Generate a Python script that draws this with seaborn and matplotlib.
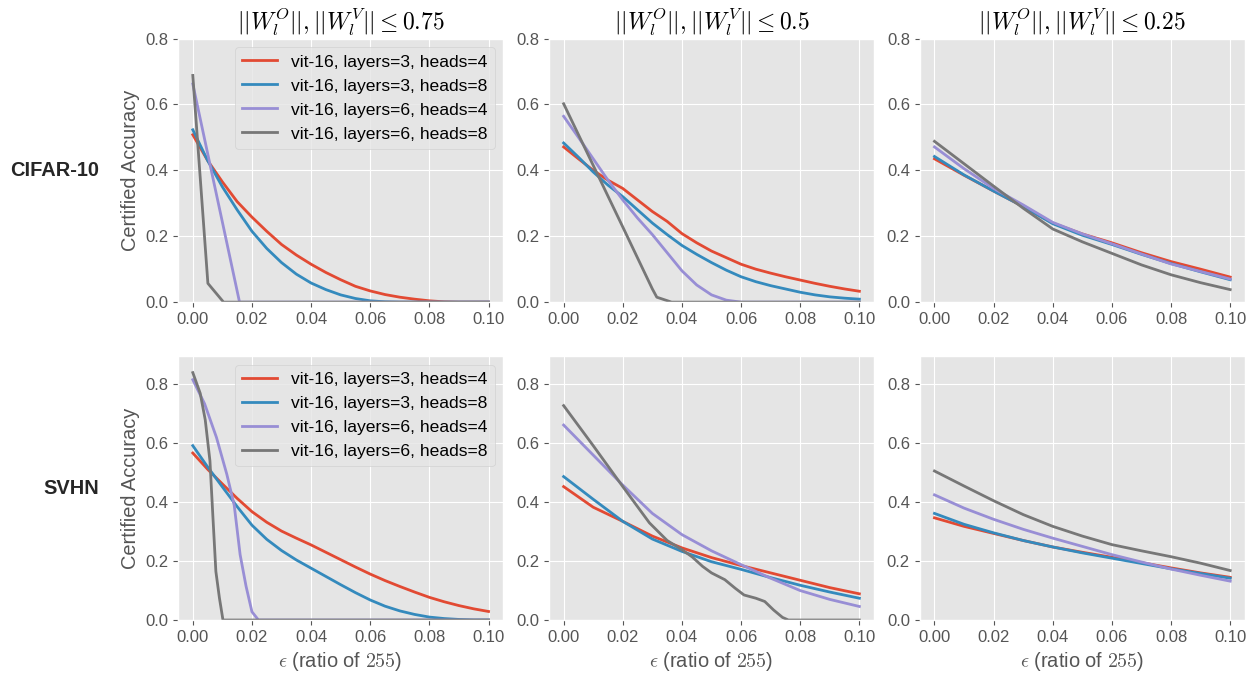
import pandas as pd
import matplotlib.pyplot as plt
import seaborn as sns

plt.style.use('ggplot')
plt.rcParams['font.family'] = ['Liberation Sans', 'DejaVu Sans']
plt.rcParams['font.size'] = 12
plt.rcParams['mathtext.fontset'] = 'cm'

# Dane
MODELS = ['vit-16, layers=3, heads=4', 'vit-16, layers=3, heads=8',
          'vit-16, layers=6, heads=4', 'vit-16, layers=6, heads=8']
COLORS = ['#E24A33', '#348ABD', '#988ED5', '#777777']
DATASETS = ['CIFAR-10', 'SVHN']
TITLES = [r'$||W_l^O||, ||W_l^V|| \leq 0.75$',
          r'$||W_l^O||, ||W_l^V|| \leq 0.5$',
          r'$||W_l^O||, ||W_l^V|| \leq 0.25$']

EPS_FINE = [0.000, 0.005, 0.010, 0.015, 0.020, 0.025, 0.030, 0.035, 0.040, 0.045, 0.050,
            0.055, 0.060, 0.065, 0.070, 0.075, 0.080, 0.085, 0.090, 0.095, 0.100]
EPS = [0.00, 0.01, 0.02, 0.03, 0.04, 0.05, 0.06, 0.07, 0.08, 0.09, 0.10]

# CIFAR-10, 0.75
c75_red = [0.508, 0.43, 0.365, 0.305, 0.258, 0.215, 0.175, 0.143, 0.115, 0.09, 0.068,
           0.048, 0.034, 0.023, 0.015, 0.009, 0.004, 0.001, 0, 0, 0]
c75_blue = [0.523, 0.43, 0.35, 0.28, 0.215, 0.163, 0.12, 0.085, 0.058, 0.038, 0.022,
            0.011, 0.004, 0.001, 0, 0, 0, 0, 0, 0, 0]
c75_purple_x = [0, 0.005, 0.01, 0.0158, 0.1]
c75_purple = [0.662, 0.452, 0.243, 0, 0]
c75_gray_x = [0, 0.0051, 0.0104, 0.1]
c75_gray = [0.688, 0.057, 0, 0]

# CIFAR-10, 0.5
c50_red = [0.471, 0.435, 0.40, 0.37, 0.345, 0.31, 0.275, 0.245, 0.208, 0.18, 0.155,
           0.135, 0.115, 0.10, 0.088, 0.077, 0.067, 0.057, 0.048, 0.04, 0.033]
c50_blue = [0.483, 0.44, 0.395, 0.355, 0.32, 0.28, 0.24, 0.205, 0.172, 0.145, 0.12,
            0.097, 0.077, 0.062, 0.05, 0.04, 0.03, 0.022, 0.016, 0.012, 0.009]
c50_purple = [0.564, 0.5, 0.435, 0.37, 0.31, 0.255, 0.205, 0.15, 0.095, 0.052, 0.022,
              0.006, 0, 0, 0, 0, 0, 0, 0, 0, 0]
c50_gray_x = [0, 0.01, 0.02, 0.03, 0.0315, 0.0365, 0.1]
c50_gray = [0.602, 0.415, 0.228, 0.04, 0.015, 0, 0]

# CIFAR-10, 0.25
c25_red = [0.435, 0.385, 0.337, 0.29, 0.24, 0.207, 0.18, 0.15, 0.123, 0.1, 0.076]
c25_blue = [0.442, 0.386, 0.337, 0.29, 0.238, 0.203, 0.175, 0.145, 0.117, 0.092, 0.068]
c25_purple = [0.471, 0.405, 0.345, 0.295, 0.242, 0.207, 0.177, 0.146, 0.116, 0.093, 0.07]
c25_gray = [0.488, 0.42, 0.352, 0.285, 0.222, 0.183, 0.148, 0.113, 0.083, 0.059, 0.038]

# SVHN, 0.75
s75_red = [0.567, 0.512, 0.462, 0.413, 0.368, 0.332, 0.302, 0.278, 0.255, 0.23, 0.205,
           0.18, 0.156, 0.134, 0.114, 0.095, 0.077, 0.062, 0.049, 0.038, 0.029]
s75_blue = [0.592, 0.52, 0.452, 0.385, 0.322, 0.274, 0.236, 0.204, 0.176, 0.148, 0.12,
            0.093, 0.068, 0.047, 0.031, 0.019, 0.01, 0.005, 0.002, 0, 0]
s75_purple_x = [0, 0.004, 0.008, 0.0115, 0.014, 0.016, 0.018, 0.02, 0.0222, 0.1]
s75_purple = [0.816, 0.734, 0.62, 0.495, 0.39, 0.222, 0.115, 0.028, 0, 0]
s75_gray_x = [0, 0.0025, 0.0042, 0.0058, 0.0068, 0.0078, 0.009, 0.0102, 0.1]
s75_gray = [0.84, 0.77, 0.68, 0.54, 0.35, 0.165, 0.075, 0, 0]

# SVHN, 0.5
s50_red = [0.453, 0.383, 0.335, 0.285, 0.245, 0.212, 0.185, 0.16, 0.135, 0.11, 0.089]
s50_blue = [0.487, 0.41, 0.335, 0.275, 0.233, 0.198, 0.172, 0.144, 0.118, 0.095, 0.074]
s50_purple = [0.662, 0.56, 0.458, 0.362, 0.29, 0.235, 0.188, 0.142, 0.1, 0.07, 0.046]
s50_gray_x = [0, 0.01, 0.02, 0.029, 0.035, 0.04, 0.0435, 0.047, 0.05, 0.0545, 0.058,
              0.061, 0.065, 0.068, 0.071, 0.074, 0.076, 0.1]
s50_gray = [0.728, 0.592, 0.453, 0.33, 0.27, 0.239, 0.214, 0.182, 0.16, 0.137, 0.108,
            0.085, 0.074, 0.063, 0.034, 0.009, 0.0, 0.0]

# SVHN, 0.25
s25_red = [0.347, 0.318, 0.294, 0.27, 0.248, 0.23, 0.213, 0.195, 0.177, 0.16, 0.145]
s25_blue = [0.362, 0.325, 0.296, 0.27, 0.248, 0.228, 0.21, 0.192, 0.174, 0.158, 0.142]
s25_purple = [0.425, 0.38, 0.342, 0.308, 0.278, 0.25, 0.222, 0.197, 0.173, 0.152, 0.132]
s25_gray = [0.506, 0.455, 0.405, 0.358, 0.318, 0.285, 0.256, 0.235, 0.215, 0.193, 0.168]

panels = [
    [[(EPS_FINE, c75_red), (EPS_FINE, c75_blue), (c75_purple_x, c75_purple), (c75_gray_x, c75_gray)],
     [(EPS_FINE, c50_red), (EPS_FINE, c50_blue), (EPS_FINE, c50_purple), (c50_gray_x, c50_gray)],
     [(EPS, c25_red), (EPS, c25_blue), (EPS, c25_purple), (EPS, c25_gray)]],
    [[(EPS_FINE, s75_red), (EPS_FINE, s75_blue), (s75_purple_x, s75_purple), (s75_gray_x, s75_gray)],
     [(EPS, s50_red), (EPS, s50_blue), (EPS, s50_purple), (s50_gray_x, s50_gray)],
     [(EPS, s25_red), (EPS, s25_blue), (EPS, s25_purple), (EPS, s25_gray)]],
]
ylims = [0.8, 0.895]

fig, axes = plt.subplots(2, 3, figsize=(12.51, 6.76), dpi=100)
plt.subplots_adjust(left=0.1423, right=0.9952, bottom=0.0828, top=0.943,
                    wspace=0.14, hspace=0.206)

for r in range(2):
    for c in range(3):
        ax = axes[r, c]
        rows = []
        for m, (xs, ys) in zip(MODELS, panels[r][c]):
            rows.append(pd.DataFrame({'eps': xs, 'acc': ys, 'model': m}))
        df = pd.concat(rows, ignore_index=True)
        sns.lineplot(data=df, x='eps', y='acc', hue='model', hue_order=MODELS,
                     palette=COLORS, estimator=None, sort=False, linewidth=2,
                     legend=(c == 0), ax=ax)
        ax.set_ylim(0, ylims[r])
        ax.set_yticks([0.0, 0.2, 0.4, 0.6, 0.8])
        ax.set_xticks([0.00, 0.02, 0.04, 0.06, 0.08, 0.10])
        ax.set_xlabel('')
        ax.set_ylabel('')
        if r == 0:
            ax.set_title(TITLES[c], fontsize=17)
        else:
            ax.set_xlabel(r'$\epsilon$ (ratio of $255$)')
        if c == 0:
            ax.set_ylabel('Certified Accuracy')
            ax.legend(loc='upper right', fontsize=12.6)

fig.text(99 / 1251, 1 - 170.75 / 676, DATASETS[0], ha='right', va='center',
         fontsize=14.4, fontweight='bold', color='#262626')
fig.text(99 / 1251, 1 - 488.5 / 676, DATASETS[1], ha='right', va='center',
         fontsize=14.4, fontweight='bold', color='#262626')

plt.savefig('out.png', dpi=100)
